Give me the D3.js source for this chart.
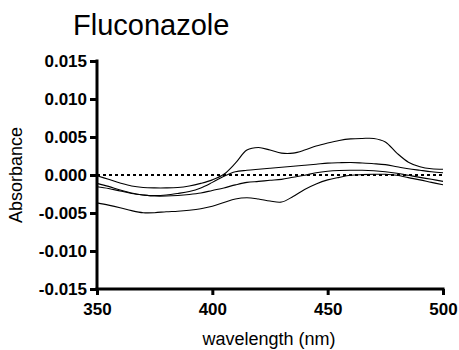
<!DOCTYPE html>
<html>
<head>
<meta charset="utf-8">
<script src="https://cdn.jsdelivr.net/npm/d3@7"></script>
<style>
  html, body { margin: 0; padding: 0; background: #fff; }
  svg { display: block; }
</style>
</head>
<body>
<svg id="chart" width="459" height="350"></svg>
<script>
// wavelengths (nm)
const wavelengths = [350,355,360,365,370,375,380,385,390,395,400,405,410,415,420,425,430,435,440,445,450,455,460,465,470,475,480,485,490,495,500];
// absorbance series
const seriesA = [-0.0001,-0.00057,-0.00104,-0.00144,-0.00164,-0.0017,-0.0017,-0.00164,-0.00144,-0.0011,-0.00064,0.0001,0.00156,0.00328,0.00362,0.00328,0.00288,0.00288,0.00328,0.00382,0.00422,0.00455,0.00475,0.00481,0.00481,0.00435,0.00288,0.00169,0.00109,0.00082,0.00076];
const seriesB = [-0.0011,-0.0015,-0.00197,-0.00237,-0.00263,-0.0027,-0.00263,-0.00243,-0.00217,-0.0017,-0.00097,-0.00017,0.00043,0.00062,0.00076,0.00089,0.00102,0.00116,0.00129,0.00142,0.00156,0.00162,0.00165,0.00158,0.00149,0.00136,0.00109,0.00082,0.00062,0.00043,0.00029];
const seriesC = [-0.00154,-0.00177,-0.0021,-0.00243,-0.00263,-0.00277,-0.00277,-0.0027,-0.00257,-0.00237,-0.00203,-0.0017,-0.0013,-0.00097,-0.00084,-0.0007,-0.00057,-0.0003,-0.00004,0.00029,0.00049,0.00059,0.00062,0.00062,0.00056,0.00043,0.00023,-0.00004,-0.00031,-0.00057,-0.00084];
const seriesD = [-0.00367,-0.00396,-0.0043,-0.00469,-0.00496,-0.00496,-0.00483,-0.00476,-0.00463,-0.00443,-0.0041,-0.00363,-0.00316,-0.003,-0.00316,-0.00343,-0.00356,-0.00283,-0.0019,-0.00117,-0.00064,-0.00031,-0.00004,0.00005,0.00009,0.00009,-0.00004,-0.00035,-0.00064,-0.00097,-0.00128];
const xTicks = [350,400,450,500];
const yTicks = [-0.015,-0.010,-0.005,0.000,0.005,0.010,0.015];
const titleText = "Fluconazole";
const xLabel = "wavelength (nm)";
const yLabel = "Absorbance";

const svg = d3.select("#chart");
const font = "'Liberation Sans', Arial, Helvetica, sans-serif";

const x = d3.scaleLinear().domain([350,500]).range([97,443]);
const y = d3.scaleLinear().domain([-0.015,0.015]).range([289,61]);

// zero reference (dotted)
svg.append("line")
  .attr("x1", x(350)).attr("x2", x(500))
  .attr("y1", y(0)).attr("y2", y(0))
  .attr("stroke", "#000").attr("stroke-width", 2.2)
  .attr("stroke-dasharray", "3,3");

// data lines
const line = d3.line()
  .x((d,i) => x(wavelengths[i]))
  .y(d => y(d))
  .curve(d3.curveCatmullRom.alpha(0.5));

[seriesA, seriesB, seriesC, seriesD].forEach(s => {
  svg.append("path")
    .attr("d", line(s))
    .attr("fill", "none")
    .attr("stroke", "#000")
    .attr("stroke-width", 1.1);
});

// axes
const xAxis = d3.axisBottom(x).tickValues(xTicks).tickSize(6).tickPadding(8)
  .tickFormat(d3.format("d"));
const gx = svg.append("g").attr("transform", `translate(0,${y(-0.015)})`).call(xAxis);
gx.select(".domain").attr("stroke-width", 3).attr("d", `M${x(350)-1.5},0H${x(500)+1.5}`);
gx.selectAll(".tick line").attr("stroke-width", 3);
gx.selectAll("text").attr("font-family", font).attr("font-size", 17).attr("font-weight", "bold").attr("fill", "#000");

const yAxis = d3.axisLeft(y).tickValues(yTicks).tickSize(7).tickPadding(3)
  .tickFormat(d3.format(".3f"));
const gy = svg.append("g").attr("transform", `translate(${x(350)},0)`).call(yAxis);
gy.select(".domain").attr("stroke-width", 3).attr("d", `M0,${y(0.015)-1.5}V${y(-0.015)+1.5}`);
gy.selectAll(".tick line").attr("stroke-width", 3);
gy.selectAll("text").attr("font-family", font).attr("font-size", 17).attr("font-weight", "bold").attr("fill", "#000")
  .text(d => d3.format(".3f")(d).replace("−", "-"));

// title
svg.append("text")
  .attr("x", 73).attr("y", 35)
  .attr("font-family", font).attr("font-size", 29)
  .attr("fill", "#000")
  .text(titleText);

// x label
svg.append("text")
  .attr("x", 269).attr("y", 345)
  .attr("text-anchor", "middle")
  .attr("font-family", font).attr("font-size", 18)
  .attr("fill", "#000")
  .text(xLabel);

// y label
svg.append("text")
  .attr("transform", `translate(22,${y(0)}) rotate(-90)`)
  .attr("text-anchor", "middle")
  .attr("font-family", font).attr("font-size", 18)
  .attr("fill", "#000")
  .text(yLabel);
</script>
</body>
</html>
